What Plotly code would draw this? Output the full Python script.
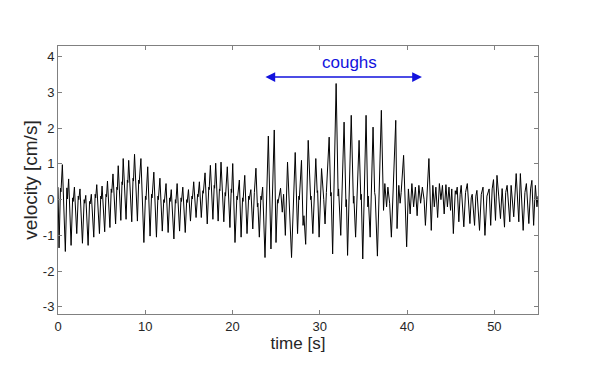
import plotly.graph_objects as go

# ---- data ----
time_s = [
    0.00, 0.12, 0.28, 0.34, 0.50, 0.84, 1.02, 1.08, 1.22, 1.50, 1.68, 1.74, 1.88, 2.15, 2.32, 2.38, 2.52, 2.80,
    3.00, 3.06, 3.18, 3.45, 3.62, 3.68, 3.82, 4.10, 4.26, 4.32, 4.44, 4.75, 4.90, 4.96, 5.05, 5.35, 5.50, 5.56,
    5.67, 5.95, 6.10, 6.16, 6.30, 6.60, 6.75, 6.80, 6.90, 7.20, 7.34, 7.38, 7.47, 7.80, 7.95, 8.00, 8.10, 8.45,
    8.60, 8.65, 8.77, 9.10, 9.25, 9.30, 9.50, 9.84, 10.02, 10.08, 10.28, 10.55, 10.72, 10.78, 10.98, 11.28,
    11.45, 11.50, 11.68, 11.95, 12.12, 12.18, 12.38, 12.62, 12.80, 12.85, 12.98, 13.28, 13.45, 13.50, 13.65,
    13.93, 14.10, 14.15, 14.30, 14.58, 14.75, 14.80, 14.95, 15.18, 15.35, 15.40, 15.55, 15.82, 16.00, 16.05,
    16.20, 16.42, 16.60, 16.65, 16.85, 17.10, 17.28, 17.32, 17.46, 17.75, 17.90, 17.95, 18.07, 18.35, 18.50,
    18.55, 18.68, 19.00, 19.15, 19.20, 19.40, 19.70, 19.85, 19.90, 20.02, 20.28, 20.50, 20.55, 20.78, 20.98,
    21.15, 21.20, 21.40, 21.66, 21.85, 21.90, 22.10, 22.32, 22.50, 22.68, 22.85, 22.90, 23.07, 23.25, 23.30,
    23.45, 23.72, 24.10, 24.40, 24.78, 24.98, 25.15, 25.20, 25.50, 25.70, 25.85, 26.05, 26.30, 26.50, 26.55,
    26.76, 27.18, 27.45, 27.60, 27.65, 27.90, 28.08, 28.18, 28.38, 28.67, 28.95, 29.00, 29.20, 29.54, 29.70,
    29.75, 29.92, 30.20, 30.45, 30.60, 30.75, 31.07, 31.25, 31.30, 31.47, 31.87, 32.10, 32.15, 32.40, 32.78,
    33.00, 33.05, 33.18, 33.60, 33.85, 33.90, 34.10, 34.50, 34.70, 34.75, 34.92, 35.30, 35.50, 35.55, 35.77,
    36.10, 36.28, 36.35, 36.60, 37.05, 37.30, 37.45, 37.65, 37.80, 38.00, 38.20, 38.70, 38.85, 39.05, 39.20,
    39.32, 39.60, 39.95, 40.15, 40.35, 40.55, 40.75, 40.95, 41.15, 41.35, 41.55, 41.75, 41.95, 42.10, 42.50,
    42.77, 42.95, 43.12, 43.30, 43.50, 43.70, 43.88, 44.05, 44.25, 44.45, 44.62, 44.80, 44.98, 45.12, 45.30,
    45.52, 45.62, 45.74, 45.93, 46.08, 46.20, 46.50, 46.70, 46.90, 47.20, 47.35, 47.46, 47.73, 47.88, 48.00,
    48.30, 48.50, 48.70, 48.92, 49.15, 49.40, 49.58, 49.75, 49.90, 50.13, 50.30, 50.50, 50.70, 50.89, 51.16,
    51.30, 51.46, 51.77, 51.92, 52.22, 52.50, 52.80, 52.98, 53.30, 53.50, 53.67, 53.95, 54.15, 54.30, 54.50,
    54.70, 54.88, 55.00,
]
velocity_cm_s = [
    0.35, -1.35, 0.32, 0.22, 0.98, -1.45, 0.33, 0.02, 0.58, -1.28, 0.05, -0.05, 0.35, -0.95, 0.10, 0.00, 0.30, -1.22,
    0.00, -0.10, 0.12, -1.28, -0.05, -0.12, 0.15, -1.05, 0.15, 0.05, 0.42, -0.95, 0.10, 0.02, 0.38, -0.90, 0.15, 0.08,
    0.52, -0.78, 0.30, 0.20, 0.72, -0.68, 0.35, 0.28, 0.95, -0.58, 0.50, 0.42, 1.15, -0.55, 0.55, 0.48, 1.10, -0.62,
    0.60, 0.52, 1.27, -0.60, 0.55, 0.45, 1.15, -1.20, 0.10, 0.00, 0.92, -1.02, 0.15, 0.05, 0.77, -1.05,
    0.10, 0.00, 0.60, -0.88, 0.00, -0.08, 0.45, -0.92, 0.05, -0.05, 0.28, -1.10, 0.00, -0.10, 0.45,
    -0.88, 0.05, -0.05, 0.35, -0.92, 0.00, -0.08, 0.28, -0.60, 0.10, 0.02, 0.50, -0.50, 0.15, 0.08,
    0.50, -0.50, 0.25, 0.18, 0.75, -0.68, 0.35, 0.28, 0.96, -0.55, 0.40, 0.32, 1.02, -0.60, 0.30,
    0.25, 1.05, -0.62, 0.20, 0.10, 0.92, -0.78, 0.30, 0.20, 1.01, -1.20, 0.10, 0.00, 0.55, -1.05,
    0.05, -0.05, 0.68, -0.95, 0.10, 0.00, 0.28, -0.82, 0.20, 0.88, -0.20, -0.10, -1.05, 0.10, 0.00,
    0.35, -1.62, 1.78, -1.38, 1.95, -1.20, 0.00, -0.10, 0.32, -0.35, 0.15, -1.00, 1.05, 0.00, -0.10,
    -1.62, 1.32, -0.95, 0.10, 0.00, 1.10, -0.72, -0.45, -1.25, 1.66, 0.00, 0.10, -0.95, 1.15, 0.20,
    0.25, -1.05, 0.87, 0.00, -0.68, 0.20, 1.75, 0.10, 0.20, -1.52, 3.25, 0.10, 0.30, -1.00, 2.17,
    -0.20, 0.00, -1.56, 2.36, -0.10, 0.10, -1.05, 1.66, 0.00, 0.15, -1.66, 2.36, -0.20, 0.10, -1.05,
    2.03, 0.20, 0.10, -1.58, 2.50, -0.30, 0.45, -0.20, 0.35, -0.10, -1.05, 2.22, -0.81, 0.40, -0.10,
    0.20, 1.24, -1.32, 0.30, -0.40, 0.45, -0.20, 0.35, -0.45, 0.40, -0.10, 0.35, 0.00, -0.72, 1.15,
    -0.86, 0.40, -0.20, 0.35, -0.50, 0.45, 0.00, 0.40, -0.40, 0.42, -0.20, 0.35, -0.30, 0.30, -0.95,
    0.25, 0.15, 0.35, -0.62, 0.15, 0.40, -0.76, 0.20, 0.45, -0.67, 0.05, 0.15, -0.72, 0.10, 0.26,
    -0.86, 0.15, 0.35, -1.00, 0.10, 0.30, -0.72, 0.30, 0.56, -0.58, 0.68, 0.10, -0.53, 0.31, -0.77,
    0.20, 0.40, -0.62, 0.40, -0.48, 0.73, -0.62, 0.73, -0.86, 0.20, 0.45, -0.67, 0.30, 0.54, -0.72,
    0.40, -0.20, 0.10,
]
x_ticks = [0, 10, 20, 30, 40, 50]
y_ticks = [-3, -2, -1, 0, 1, 2, 3, 4]
annotation_text = "coughs"

FONT = "Liberation Sans, Arial, Helvetica, sans-serif"
AXIS_COLOR = "#808080"
TEXT_COLOR = "#262626"
BLUE = "#1212dd"

fig = go.Figure()
fig.add_trace(go.Scatter(
    x=time_s, y=velocity_cm_s, mode="lines",
    line=dict(color="black", width=1),
    hoverinfo="skip", showlegend=False,
))

axis_common = dict(
    showline=True, linecolor=AXIS_COLOR, linewidth=1, mirror="ticks",
    ticks="inside", ticklen=4, tickcolor=AXIS_COLOR, tickwidth=1,
    showgrid=False, zeroline=False, automargin=False,
    tickfont=dict(family=FONT, size=13, color=TEXT_COLOR),
)

# the page body adds an 8px offset, so the figure is drawn 8px smaller and
# shifted margins keep the plot area where it is in the reference
fig.update_layout(
    width=585, height=371,
    margin=dict(l=50, r=55, t=38, b=65),
    paper_bgcolor="white", plot_bgcolor="white",
    font=dict(family=FONT, color=TEXT_COLOR),
    xaxis=dict(range=[0, 55], tickvals=x_ticks, ticktext=[str(v) for v in x_ticks],
               title=dict(text="time [s]", font=dict(family=FONT, size=17, color=TEXT_COLOR), standoff=2),
               **axis_common),
    yaxis=dict(range=[-3.2, 4.3], tickvals=y_ticks, ticktext=[str(v) for v in y_ticks],
               title=dict(text="velocity [cm/s]", font=dict(family=FONT, size=19, color=TEXT_COLOR), standoff=0),
               **axis_common),
)

# double-headed arrow spanning the coughs
fig.add_annotation(
    x=41.7, y=3.43, ax=23.6, ay=3.43, xref="x", yref="y", axref="x", ayref="y",
    text="", showarrow=True, arrowside="end+start",
    arrowhead=2, startarrowhead=2, arrowsize=1.3, startarrowsize=1.3,
    arrowwidth=1.5, arrowcolor=BLUE, standoff=0, startstandoff=0,
)
fig.add_annotation(
    x=33.4, y=3.43, xref="x", yref="y", text=annotation_text, showarrow=False,
    yanchor="bottom", yshift=3,
    font=dict(family=FONT, size=17, color=BLUE),
)

fig.write_html("out.html")
